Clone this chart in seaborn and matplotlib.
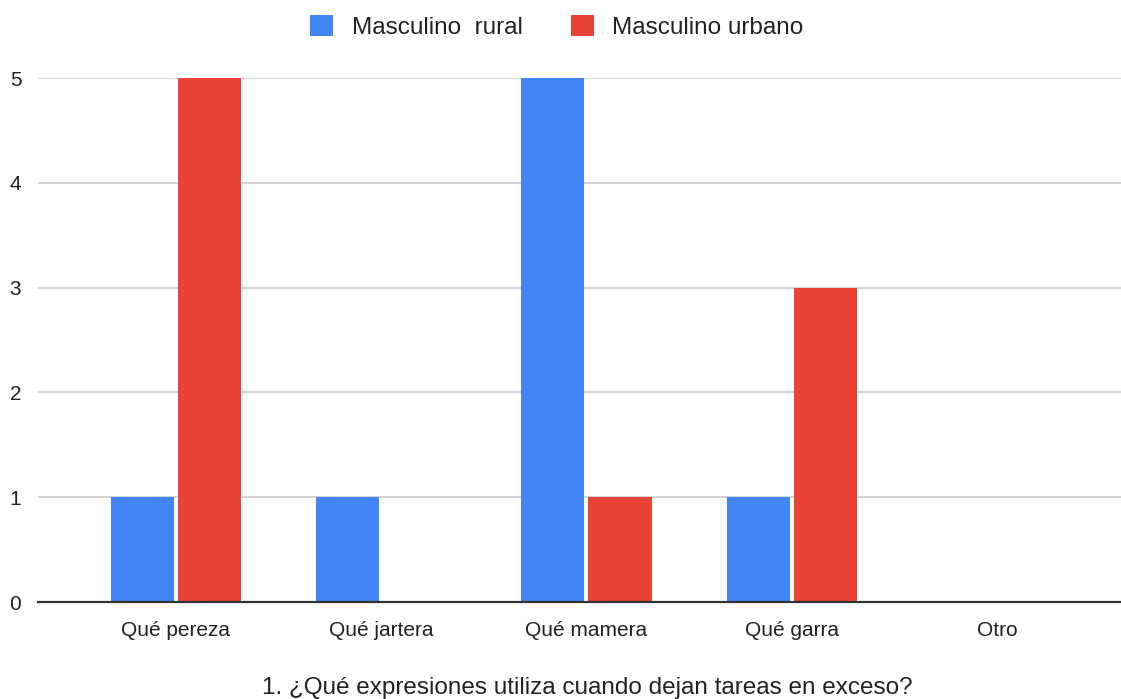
import pandas as pd
import matplotlib
matplotlib.use("Agg")
import matplotlib.pyplot as plt
import seaborn as sns

categories = ["Qué pereza", "Qué jartera", "Qué mamera", "Qué garra", "Otro"]
rural = [1, 1, 5, 1, 0]
urbano = [5, 0, 1, 3, 0]
series = ["Masculino  rural", "Masculino urbano"]
colors = ["#4285F4", "#EA4335"]

df = pd.DataFrame({
    "categoria": categories * 2,
    "valor": rural + urbano,
    "serie": [series[0]] * len(categories) + [series[1]] * len(categories),
})

sns.set_theme(style="white")
plt.rcParams["font.family"] = ["Liberation Sans", "DejaVu Sans"]

fig = plt.figure(figsize=(11.21, 6.99), dpi=100)
ax = fig.add_axes([38 / 1121, 1 - 602 / 699, 1 - 38 / 1121, (602 - 78) / 699])

sns.barplot(data=df, x="categoria", y="valor", hue="serie", palette=colors,
            width=0.655, gap=0.06, linewidth=0, saturation=1, ax=ax)

ax.set_xlim(-0.672, 4.604)
ax.set_ylim(0, 5)
ax.set_yticks(range(6))
ax.yaxis.grid(True, color="#cccccc", linewidth=1.2)
ax.set_axisbelow(True)
for s in ["top", "right", "left"]:
    ax.spines[s].set_visible(False)
ax.spines["bottom"].set_color("#333333")
ax.spines["bottom"].set_linewidth(1.6)
ax.tick_params(axis="both", length=0, labelsize=15, labelcolor="#222222")
ax.tick_params(axis="y", pad=12)
ax.tick_params(axis="x", pad=14)
ax.set_xlabel("")
ax.set_ylabel("")

handles, labels = ax.get_legend_handles_labels()
ax.get_legend().remove()
fig.legend(handles, labels, loc="center", bbox_to_anchor=(557 / 1121, 1 - 27 / 699),
           ncol=2, frameon=False, fontsize=17.5, handlelength=0.95, handleheight=0.95,
           columnspacing=2.0, handletextpad=0.75, labelcolor="#222222")

fig.text(587 / 1121, 1 - 688 / 699, "1. ¿Qué expresiones utiliza cuando dejan tareas en exceso?",
         ha="center", va="center", fontsize=17.5, color="#222222")

fig.savefig("out.png", dpi=100)
